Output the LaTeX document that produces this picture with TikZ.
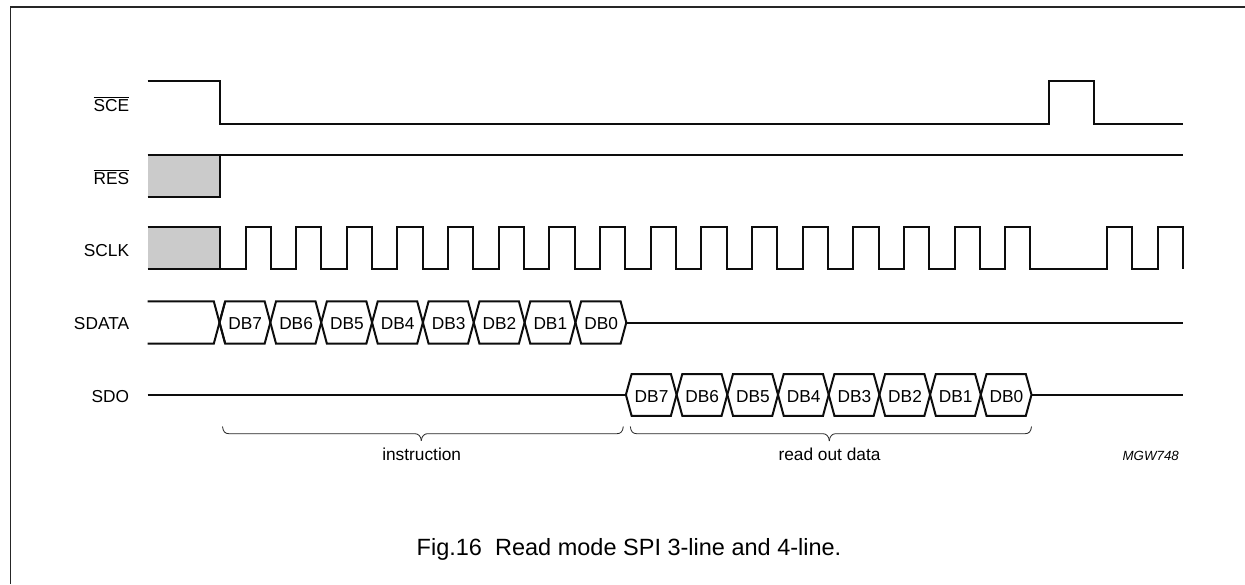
\documentclass[tikz,border=0pt]{standalone}
\usepackage{fontspec}
\setmainfont{Liberation Sans}
\newcommand{\ovbar}[1]{\leavevmode\vbox{\hrule height 0.7pt\kern 1.6pt\hbox{#1}}}
\definecolor{greyzone}{HTML}{CBCBCB}
\tikzset{
  frameline/.style={line width=1.3pt,color=black!85},
  wave/.style={line width=2pt,line join=miter,color=black!95},
  bracket/.style={line width=0.8pt,color=black!85},
  siglabel/.style={anchor=base east,inner sep=0pt,font=\fontsize{17.3}{20}\selectfont},
  bitlabel/.style={anchor=base,inner sep=0pt,font=\fontsize{17.3}{20}\selectfont},
  notelabel/.style={anchor=base,inner sep=0pt,font=\fontsize{17.3}{20}\selectfont},
  codelabel/.style={anchor=base east,inner sep=0pt,font=\fontsize{13.3}{16}\selectfont\itshape},
  captionlabel/.style={anchor=base west,inner sep=0pt,font=\fontsize{23.5}{28}\selectfont}
}
\begin{document}
\begin{tikzpicture}[x=1pt,y=-1pt]
\useasboundingbox (0,0) rectangle (1245,584);
\fill[white] (0,0) rectangle (1245,584);
% frame
\draw[frameline] (10.5,584) -- (10.5,7) -- (1245,7);
% shaded regions
\fill[greyzone] (147.7,155) rectangle (219.5,197);
\fill[greyzone] (147.7,227) rectangle (219.5,269);
% labels
\node[siglabel] (lsce) at (129.3,111.5) {\ovbar{SCE}};
\node[siglabel] (lres) at (129.3,184.3) {\ovbar{RES}};
\node[siglabel] (lsclk) at (129.3,256) {SCLK};
\node[siglabel] (lsdata) at (129.3,329.3) {SDATA};
\node[siglabel] (lsdo) at (129.3,402.3) {SDO};
% SCE
\draw[wave] (147.7,81) -- (219.5,81) -- (219.5,123.5) -- (1048.5,123.5) -- (1048.5,81) -- (1093.7,81) -- (1093.7,123.5) -- (1182.7,123.5);
% RES
\draw[wave] (147.7,155) -- (1182.7,155);
\draw[wave] (147.7,197) -- (219.5,197) -- (219.5,155);
% SCLK
\draw[wave] (147.7,227) -- (219.5,227) -- (219.5,269);
\draw[wave] (147.7,269) -- (245.5,269)
  \foreach \k in {0,...,15}{
    -- ({245.5+50.65*\k},269) -- ({245.5+50.65*\k},227) -- ({270.7+50.65*\k},227) -- ({270.7+50.65*\k},269)
  }
  -- (1107,269) -- (1107,227) -- (1131.7,227) -- (1131.7,269) -- (1157.5,269) -- (1157.5,227) -- (1182.5,227) -- (1182.5,269);
% SDATA
\draw[wave] (147.7,301.3) -- (213.8,301.3) -- (225.2,343.7);
\draw[wave] (147.7,343.7) -- (213.8,343.7) -- (225.2,301.3);
\foreach \k/\t in {0/DB7,1/DB6,2/DB5,3/DB4,4/DB3,5/DB2,6/DB1,7/DB0}{
  \pgfmathsetmacro{\a}{219.5+50.85*\k}
  \pgfmathsetmacro{\b}{219.5+50.85*(\k+1)}
  \draw[wave] ({\a+5.7},301.3) -- ({\b-5.7},301.3) -- ({\b},322.5) -- ({\b-5.7},343.7) -- ({\a+5.7},343.7) -- ({\a},322.5) -- cycle;
  \node[bitlabel] (sd\k) at ({(\a+\b)/2+0.3},329.3) {\t};
}
\draw[wave] (626.3,322.5) -- (1182.7,322.5);
% SDO
\draw[wave] (147.7,394.7) -- (626,394.7);
\foreach \k/\t in {0/DB7,1/DB6,2/DB5,3/DB4,4/DB3,5/DB2,6/DB1,7/DB0}{
  \pgfmathsetmacro{\a}{625.9+50.7*\k}
  \pgfmathsetmacro{\b}{625.9+50.7*(\k+1)}
  \draw[wave] ({\a+5.7},374) -- ({\b-5.7},374) -- ({\b},394.7) -- ({\b-5.7},415.8) -- ({\a+5.7},415.8) -- ({\a},394.7) -- cycle;
  \node[bitlabel] (so\k) at ({(\a+\b)/2+0.3},402.3) {\t};
}
\draw[wave] (1031.5,394.7) -- (1182.7,394.7);
% braces
\draw[bracket] (222.5,426.5) .. controls (223,431.5) and (225,433.7) .. (229,433.7) -- (415,433.7) .. controls (418,433.7) and (421,436) .. (421.3,440.7);
\draw[bracket] (623.3,426.5) .. controls (622.8,431.5) and (620.8,433.7) .. (616.8,433.7) -- (427.5,433.7) .. controls (424.5,433.7) and (421.6,436) .. (421.3,440.7);
\draw[bracket] (630.3,426.5) .. controls (630.8,431.5) and (632.8,433.7) .. (636.8,433.7) -- (823,433.7) .. controls (826,433.7) and (829,436) .. (829.3,441);
\draw[bracket] (1031.5,426.5) .. controls (1031,431.5) and (1029,433.7) .. (1025,433.7) -- (835.5,433.7) .. controls (832.5,433.7) and (829.6,436) .. (829.3,441);
% notes
\node[notelabel] (instr) at (421.7,460.7) {instruction};
\node[notelabel] (readout) at (829.5,460.7) {read out data};
\node[codelabel] (code) at (1179,460) {MGW748};
\node[captionlabel] (cap) at (416.5,555) {Fig.16\hspace{0.56em}Read mode SPI 3-line and 4-line.};
\end{tikzpicture}
\end{document}
